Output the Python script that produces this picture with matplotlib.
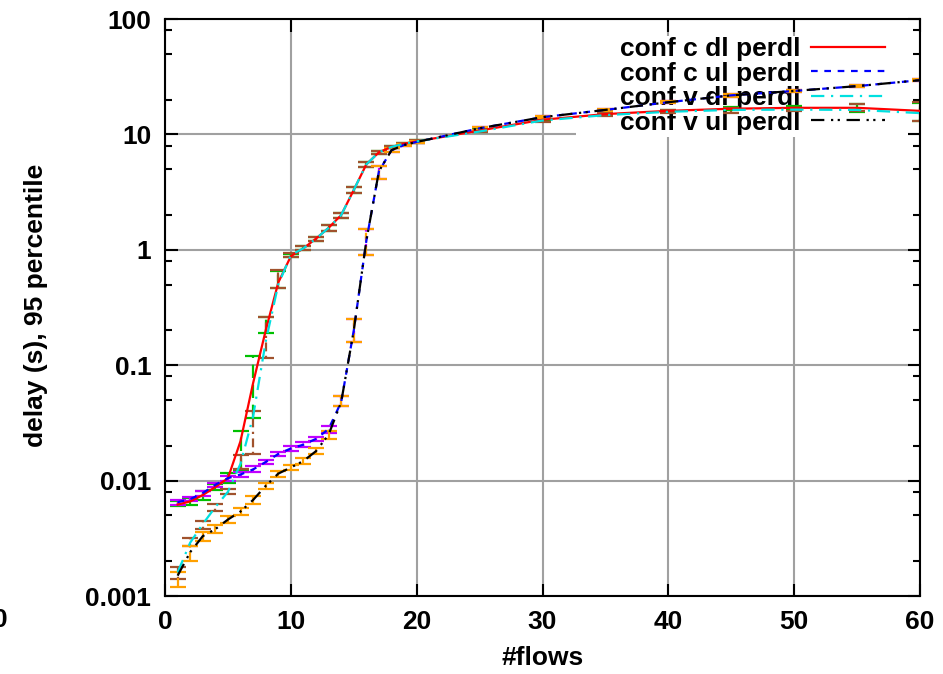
import matplotlib
matplotlib.use("Agg")
import matplotlib.pyplot as plt
from matplotlib.patches import Rectangle
from matplotlib.ticker import FixedLocator, NullFormatter

plt.rcParams['font.family'] = ['Liberation Sans', 'DejaVu Sans']
plt.rcParams['font.weight'] = 'bold'

# number of flows
flows = [1, 2, 3, 4, 5, 6, 7, 8, 9, 10, 11, 12, 13, 14, 15, 16, 17, 18, 19, 20,
         25, 30, 35, 40, 45, 50, 55, 60]

# conf c dl perdl
c_dl    = [0.0062, 0.0066, 0.0075, 0.0088, 0.0105, 0.022, 0.07, 0.2, 0.52, 0.88,
           1.03, 1.25, 1.55, 2.0, 3.3, 5.5, 7.0, 7.8, 8.3, 8.7,
           10.8, 13.4, 15.0, 16.0, 16.7, 17.0, 17.0, 16.0]
c_dl_lo = [0.0060, 0.0062, 0.0068, 0.0083, 0.0095, 0.012, 0.035, 0.19, 0.47, 0.86,
           1.0, 1.2, 1.45, 1.9, 3.1, 5.2, 6.8, 7.6, 8.1, 8.5,
           10.5, 13.0, 14.6, 15.6, 16.2, 16.3, 15.5, 13.1]
c_dl_hi = [0.0066, 0.0071, 0.0082, 0.0094, 0.0117, 0.027, 0.12, 0.26, 0.66, 0.92,
           1.07, 1.3, 1.65, 2.1, 3.5, 5.8, 7.2, 8.0, 8.5, 8.9,
           11.1, 13.8, 15.4, 16.4, 17.4, 17.5, 18.3, 18.7]

# conf c ul perdl
c_ul    = [0.0065, 0.0069, 0.0078, 0.0092, 0.0105, 0.0113, 0.0125, 0.0145, 0.017, 0.019,
           0.0205, 0.023, 0.028, 0.048, 0.2, 1.2, 4.8, 7.3, 8.1, 8.6,
           11.3, 14.1, 16.3, 19.0, 21.8, 23.8, 26.2, 29.5]
c_ul_lo = [0.0062, 0.0066, 0.0074, 0.0088, 0.0100, 0.0107, 0.0118, 0.0138, 0.0162, 0.0182,
           0.0196, 0.0222, 0.026, 0.044, 0.16, 0.9, 4.1, 7.0, 7.9, 8.4,
           11.0, 13.8, 15.9, 18.6, 21.2, 23.2, 25.6, 28.8]
c_ul_hi = [0.0068, 0.0072, 0.0082, 0.0096, 0.0110, 0.0119, 0.0133, 0.0152, 0.0178, 0.0198,
           0.0214, 0.024, 0.030, 0.054, 0.25, 1.5, 5.3, 7.6, 8.3, 8.8,
           11.6, 14.4, 16.7, 19.4, 22.4, 24.4, 26.8, 30.2]

# conf v dl perdl
v_dl    = [0.0016, 0.0029, 0.0042, 0.0059, 0.008, 0.014, 0.036, 0.16, 0.5, 0.9,
           1.03, 1.25, 1.55, 2.0, 3.3, 5.5, 7.0, 7.8, 8.3, 8.7,
           10.6, 13.2, 14.7, 15.7, 16.3, 16.4, 16.3, 15.3]
v_dl_lo = [0.0014, 0.0027, 0.0038, 0.0055, 0.0076, 0.0125, 0.017, 0.115, 0.47, 0.87,
           1.0, 1.2, 1.45, 1.9, 3.1, 5.2, 6.8, 7.6, 8.1, 8.5,
           10.4, 12.9, 14.3, 15.3, 15.2, 15.8, 15.8, 13.0]
v_dl_hi = [0.0018, 0.0032, 0.0045, 0.0063, 0.0085, 0.0168, 0.04, 0.26, 0.67, 0.93,
           1.07, 1.3, 1.65, 2.1, 3.5, 5.8, 7.2, 8.0, 8.5, 8.9,
           10.9, 13.6, 15.2, 16.2, 16.8, 17.0, 18.5, 19.0]

# conf v ul perdl
v_ul    = [0.0015, 0.0024, 0.0033, 0.0038, 0.0046, 0.0054, 0.0068, 0.0090, 0.0115, 0.0130,
           0.0148, 0.018, 0.025, 0.048, 0.2, 1.2, 4.8, 7.3, 8.1, 8.6,
           11.3, 14.1, 16.3, 19.0, 21.8, 23.8, 26.2, 29.5]
v_ul_lo = [0.0012, 0.0020, 0.0030, 0.0035, 0.0043, 0.0050, 0.0063, 0.0084, 0.0108, 0.0123,
           0.0140, 0.017, 0.023, 0.044, 0.16, 0.9, 4.1, 7.0, 7.9, 8.4,
           11.0, 13.8, 15.9, 18.6, 21.2, 23.2, 25.6, 28.8]
v_ul_hi = [0.0016, 0.0027, 0.0036, 0.0041, 0.0049, 0.0058, 0.0073, 0.0096, 0.0122, 0.0137,
           0.0156, 0.019, 0.027, 0.054, 0.25, 1.5, 5.3, 7.6, 8.3, 8.8,
           11.6, 14.4, 16.7, 19.4, 22.4, 24.4, 26.8, 30.2]

labels = ["conf c dl perdl", "conf c ul perdl", "conf v dl perdl", "conf v ul perdl"]
y_ticks = [0.001, 0.01, 0.1, 1, 10, 100]
y_tick_labels = ["0.001", "0.01", "0.1", "1", "10", "100"]
x_ticks = [0, 10, 20, 30, 40, 50, 60]

series = [
    (c_dl, c_dl_lo, c_dl_hi, "#ff0000", "-",                    "#00c000", (0, (6, 3))),
    (c_ul, c_ul_lo, c_ul_hi, "#0000ff", (0, (3, 3)),            "#c000ff", (0, (1.5, 2))),
    (v_dl, v_dl_lo, v_dl_hi, "#00e0e0", (0, (6, 3, 1, 3)),      "#a0522d", (0, (1, 2, 4, 2))),
    (v_ul, v_ul_lo, v_ul_hi, "#000000", (0, (6, 3, 1, 2, 1, 3)), "#ffa000", (0, (4, 2))),
]

fig = plt.figure(figsize=(9.43, 6.74), dpi=100)
ax = fig.add_axes([0.175, 0.1157, 0.8006, 0.8561])

ax.set_yscale("log")
ax.set_xlim(0, 60)
ax.set_ylim(0.001, 100)

handles = []
for y, lo, hi, col, ls, ecol, els in series:
    yerr = [[v - l for v, l in zip(y, lo)], [h - v for v, h in zip(y, hi)]]
    eb = ax.errorbar(flows, y, yerr=yerr, fmt="none", ecolor=ecol,
                     elinewidth=1.6, capsize=6, capthick=1.6, zorder=2)
    eb[2][0].set_linestyle(els)
    ln, = ax.plot(flows, y, color=col, linestyle=ls, lw=1.6, zorder=3)
    handles.append(ln)

# grid, masked behind the key like gnuplot does
ax.set_axisbelow(True)
ax.grid(True, color="#a0a0a0", lw=1.5)
ax.add_patch(Rectangle((0.544, 0.7955), 0.44, 0.175, transform=ax.transAxes,
                       facecolor="white", edgecolor="none", zorder=1))

ax.set_xticks(x_ticks)
ax.set_xticklabels([str(t) for t in x_ticks])
ax.yaxis.set_major_locator(FixedLocator(y_ticks))
ax.set_yticklabels(y_tick_labels)
minor = [m * d for d in [0.001, 0.01, 0.1, 1, 10] for m in (2, 5, 8)]
ax.yaxis.set_minor_locator(FixedLocator(minor))
ax.yaxis.set_minor_formatter(NullFormatter())

ax.tick_params(axis="both", which="major", direction="in", length=9, width=1.5,
               top=True, right=True, labelsize=19, pad=10)
ax.tick_params(axis="y", which="minor", direction="in", length=5, width=1.5,
               right=True)
ax.tick_params(axis="x", which="minor", bottom=False, top=False)
for lab in ax.get_xticklabels() + ax.get_yticklabels():
    lab.set_fontweight("bold")
for sp in ax.spines.values():
    sp.set_linewidth(1.5)

ax.set_xlabel("#flows", fontsize=19, fontweight="bold")
ax.set_ylabel("delay (s), 95 percentile", fontsize=19, fontweight="bold")
ax.xaxis.set_label_coords(0.5, -0.087)
ax.yaxis.set_label_coords(-0.155, 0.504)

leg = ax.legend(handles, labels, loc="upper right", bbox_to_anchor=(0.975, 0.996),
                frameon=False, markerfirst=False, handlelength=2.8,
                labelspacing=0.02, handletextpad=0.4, borderaxespad=0.2,
                prop={"weight": "bold", "size": 19})
leg.set_zorder(1.5)

# stray tick label at the left edge
fig.text(0.0, 0.08, "0", fontsize=19, fontweight="bold", ha="center", va="center")

fig.savefig("out.png", dpi=100)
